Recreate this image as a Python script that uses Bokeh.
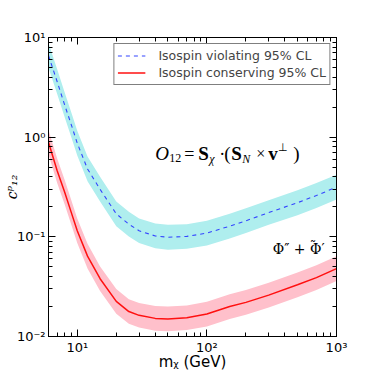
from bokeh.plotting import figure
from bokeh.models import (LogAxis, LogTicker, CustomJSTickFormatter, Label,
                          Legend, LegendItem, Range1d)
from bokeh.embed import file_html
from bokeh.resources import INLINE

# ---- data ----
mass = [6, 7, 8, 9, 10, 12, 15, 20, 25, 30, 40, 50, 70, 100, 150, 200, 300, 500, 700, 1000]

viol = [6.6, 3.6, 2.1, 1.33, 0.87, 0.48, 0.30, 0.17, 0.134, 0.115, 0.102, 0.099,
        0.101, 0.109, 0.128, 0.145, 0.175, 0.22, 0.26, 0.315]
viol_hi = [8.8, 4.8, 2.8, 1.77, 1.16, 0.64, 0.40, 0.226, 0.178, 0.153, 0.136, 0.132,
           0.134, 0.145, 0.170, 0.193, 0.233, 0.293, 0.346, 0.419]
viol_lo = [4.96, 2.71, 1.58, 1.0, 0.654, 0.361, 0.226, 0.128, 0.101, 0.0865, 0.0767,
           0.0744, 0.0759, 0.082, 0.0962, 0.109, 0.132, 0.165, 0.195, 0.237]

cons = [0.89, 0.46, 0.28, 0.175, 0.115, 0.064, 0.038, 0.0225, 0.0178, 0.0163, 0.0152,
        0.0150, 0.0154, 0.0168, 0.0200, 0.022, 0.026, 0.033, 0.039, 0.048]
cons_hi = [1.18, 0.61, 0.372, 0.233, 0.153, 0.085, 0.0505, 0.0299, 0.0237, 0.0217,
           0.0202, 0.020, 0.0205, 0.0223, 0.0266, 0.0293, 0.0346, 0.0439, 0.0519, 0.0638]
cons_lo = [0.669, 0.346, 0.211, 0.132, 0.0865, 0.0481, 0.0286, 0.0169, 0.0134, 0.0123,
           0.0114, 0.0113, 0.0116, 0.0126, 0.015, 0.0165, 0.0195, 0.0248, 0.0293, 0.0361]

legend_labels = ["Isospin violating 95% CL", "Isospin conserving 95% CL"]

p = figure(width=374, height=374, x_axis_type="log", y_axis_type="log",
           x_range=Range1d(6, 1000), y_range=Range1d(0.01, 10),
           output_backend="svg", toolbar_location=None,
           min_border_left=46, min_border_right=38, min_border_top=37, min_border_bottom=38)
p.grid.visible = False
p.outline_line_color = "black"
p.outline_line_width = 1
p.background_fill_color = "white"
p.border_fill_color = "white"

p.varea(x=mass, y1=viol_lo, y2=viol_hi, fill_color="#afeeee", fill_alpha=1.0)
p.varea(x=mass, y1=cons_lo, y2=cons_hi, fill_color="#ffc0cb", fill_alpha=1.0)
r1 = p.line(mass, viol, line_color="#3344ff", line_width=1.1, line_dash="4 4")
r2 = p.line(mass, cons, line_color="#ff1010", line_width=1.5)

sup_js = """
const e = Math.round(Math.log10(tick));
const m = {'-':'\\u207b','0':'\\u2070','1':'\\u00b9','2':'\\u00b2','3':'\\u00b3'};
return '10' + String(e).split('').map(c => m[c]).join('');
"""

def style_axis(ax, show_labels):
    ax.ticker = LogTicker(mantissas=[1], num_minor_ticks=10)
    ax.axis_line_color = "black"
    ax.major_tick_in = 7
    ax.major_tick_out = 0
    ax.minor_tick_in = 4
    ax.minor_tick_out = 0
    ax.major_tick_line_color = "black"
    ax.minor_tick_line_color = "black"
    if show_labels:
        ax.formatter = CustomJSTickFormatter(code=sup_js)
        ax.major_label_text_font = "DejaVu Sans"
        ax.major_label_text_font_size = "13px"
        ax.major_label_text_color = "black"
        ax.major_label_standoff = 3
    else:
        ax.formatter = CustomJSTickFormatter(code="return ' ';")
        ax.major_label_text_font_size = "2px"
        ax.major_label_text_alpha = 0
        ax.major_label_standoff = 0

style_axis(p.xaxis[0], True)
style_axis(p.yaxis[0], True)
p.xaxis.axis_label = "m\u1d6a (GeV)"
p.xaxis.axis_label_text_font = "DejaVu Sans"
p.xaxis.axis_label_text_font_size = "15px"
p.xaxis.axis_label_text_font_style = "normal"
p.xaxis.axis_label_text_color = "black"
p.xaxis.axis_label_standoff = -5
p.yaxis.axis_label = "c\u1d56\u2081\u2082"
p.yaxis.axis_label_text_font = "DejaVu Serif"
p.yaxis.axis_label_text_font_size = "14px"
p.yaxis.axis_label_text_font_style = "italic"
p.yaxis.axis_label_text_color = "black"
p.yaxis.axis_label_standoff = -6

top = LogAxis()
style_axis(top, False)
p.add_layout(top, "above")
right = LogAxis()
style_axis(right, False)
p.add_layout(right, "right")

legend = Legend(items=[LegendItem(label=legend_labels[0], renderers=[r1]),
                       LegendItem(label=legend_labels[1], renderers=[r2])],
                location="top_right")
legend.border_line_color = "black"
legend.border_line_width = 1
legend.label_text_font = "DejaVu Sans"
legend.label_text_font_size = "12.5px"
legend.margin = 6
legend.padding = 3
legend.spacing = 0
legend.glyph_width = 28
legend.glyph_height = 17
legend.label_height = 17
legend.label_width = 167
legend.label_standoff = 13
p.add_layout(legend)

serif = "Liberation Serif"

def put(x, y, pieces):
    for t, dx, dy, font, fs, st in pieces:
        p.add_layout(Label(x=x, y=y, x_offset=dx, y_offset=dy, text=t,
                           text_font=font, text_font_size=fs, text_font_style=st,
                           text_color="black", text_baseline="alphabetic"))

# formula annotation: O_12 = S_chi . (S_N x v_perp)
put(40, 0.68, [
    ("O", 0, 0, serif, "19px", "italic"),
    ("12", 14, -4, serif, "12px", "normal"),
    ("=", 29, 0, serif, "18px", "normal"),
    ("S", 43, 0, serif, "19px", "bold"),
    ("\u03c7", 54, -5, serif, "12px", "italic"),
    ("\u00b7", 64, 0, serif, "18px", "normal"),
    ("(", 69, 0, serif, "19px", "normal"),
    ("S", 76, 0, serif, "19px", "bold"),
    ("N", 87, -5, serif, "12px", "italic"),
    ("\u00d7", 101, 0, serif, "16px", "normal"),
    ("v", 113, 0, serif, "19px", "bold"),
    ("\u22a5", 123, 7, serif, "11px", "normal"),
    (")", 138, 0, serif, "19px", "normal"),
])

put(322, 0.075, [
    ("\u03a6\u2033 + \u03a6\u2032", 0, 0, "DejaVu Serif", "14px", "normal"),
    ("\u02dc", 37, 4, "DejaVu Serif", "13px", "normal"),
])

open("out.html", "w").write(file_html(p, INLINE))
